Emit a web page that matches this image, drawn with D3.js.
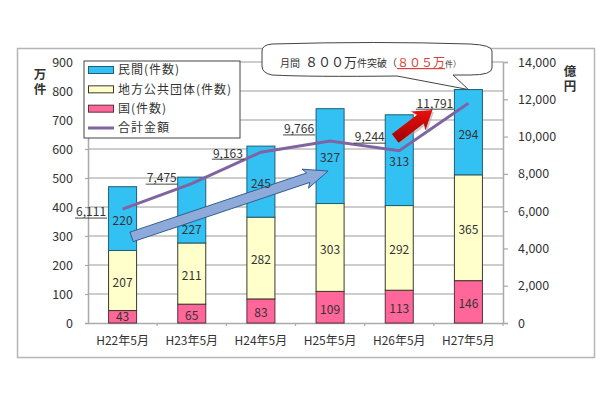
<!DOCTYPE html>
<html>
<head>
<meta charset="utf-8">
<script src="https://cdn.jsdelivr.net/npm/d3@7"></script>
<style>
  html, body { margin: 0; padding: 0; background: #fff; }
  text { font-family: "Noto Sans CJK JP", "Noto Sans", sans-serif; fill: #333; }
  .domain { stroke: #aaa; stroke-width: 1.5; }
  .tick line { stroke: #aaa; stroke-width: 1.2; }
</style>
</head>
<body>
<svg id="chart" width="610" height="400"></svg>
<script>
const categories = ["H22年5月", "H23年5月", "H24年5月", "H25年5月", "H26年5月", "H27年5月"];
const kuni = [43, 65, 83, 109, 113, 146];
const chihou = [207, 211, 282, 303, 292, 365];
const minkan = [220, 227, 245, 327, 313, 294];
const goukei = [6111, 7475, 9163, 9766, 9244, 11791];
const leftTicks = [0, 100, 200, 300, 400, 500, 600, 700, 800, 900];
const rightTicks = [0, 2000, 4000, 6000, 8000, 10000, 12000, 14000];
const seriesNames = ["民間(件数)", "地方公共団体(件数)", "国(件数)", "合計金額"];

const svg = d3.select("#chart");
const plotLeft = 88, plotRight = 503, plotTop = 62, plotBottom = 323;

const x = d3.scaleBand().domain(categories).range([plotLeft, plotRight]).paddingInner(0.595).paddingOuter(0.2975);
const xc = d3.scalePoint().domain(categories).range([plotLeft, plotRight]).padding(0.5);
const yL = d3.scaleLinear().domain([0, 900]).range([plotBottom, plotTop]);
const yR = d3.scaleLinear().domain([0, 14000]).range([plotBottom, plotTop]);

// outer frame
svg.append("rect").attr("x", 17.5).attr("y", 48.5).attr("width", 577).attr("height", 309)
  .attr("fill", "#fff").attr("stroke", "#b5b5b5").attr("stroke-width", 1.5);

// grid
svg.append("g").selectAll("line").data(leftTicks.slice(1)).join("line")
  .attr("x1", plotLeft).attr("x2", plotRight)
  .attr("y1", d => yL(d)).attr("y2", d => yL(d))
  .attr("stroke", "#bdbdbd").attr("stroke-width", 1.3);

// axes
const axL = svg.append("g").attr("transform", `translate(${plotLeft},0)`)
  .call(d3.axisLeft(yL).tickValues(leftTicks).tickSize(3).tickPadding(12));
axL.selectAll("text").attr("font-size", 12.5);

const axR = svg.append("g").attr("transform", `translate(${plotRight},0)`)
  .call(d3.axisRight(yR).tickValues(rightTicks).tickFormat(d3.format(",")).tickSize(5).tickPadding(10));
axR.selectAll("text").attr("font-size", 12.5);

const axB = svg.append("g").attr("transform", `translate(0,${plotBottom})`)
  .call(d3.axisBottom(x).tickSize(0).tickPadding(13));
axB.selectAll("text").attr("font-size", 12);
// category separators sit between the bars
svg.append("g").selectAll("line").data(categories).join("line")
  .attr("x1", d => xc(d) + xc.step() / 2).attr("x2", d => xc(d) + xc.step() / 2)
  .attr("y1", plotBottom).attr("y2", plotBottom + 3)
  .attr("stroke", "#aaa").attr("stroke-width", 1.2);

// stacked bars
const rows = categories.map((c, i) => ({ cat: c, kuni: kuni[i], chihou: chihou[i], minkan: minkan[i] }));
const stack = d3.stack().keys(["kuni", "chihou", "minkan"])(rows);
const fills = { kuni: "#ff6699", chihou: "#ffffcc", minkan: "#33c1f3" };
const strokes = { kuni: "#5a3040", chihou: "#3a3a2a", minkan: "#1d5f78" };

const layers = svg.append("g").selectAll("g").data(stack).join("g");
layers.selectAll("rect").data(s => s.map(d => ({ key: s.key, d }))).join("rect")
  .attr("x", p => x(p.d.data.cat))
  .attr("width", x.bandwidth())
  .attr("y", p => yL(p.d[1]))
  .attr("height", p => yL(p.d[0]) - yL(p.d[1]))
  .attr("fill", p => fills[p.key])
  .attr("stroke", p => strokes[p.key])
  .attr("stroke-width", 1);

// total amount line
const line = d3.line().x((d, i) => xc(categories[i])).y(d => yR(d));
svg.append("path").datum(goukei).attr("d", line)
  .attr("fill", "none").attr("stroke", "#8064a2").attr("stroke-width", 3);

// long blue arrow goes over the line but under the numbers
function arrow(x0, y0, x1, y1, shaft, head, headLen) {
  const a = Math.atan2(y1 - y0, x1 - x0), len = Math.hypot(x1 - x0, y1 - y0);
  const pts = [[0, -shaft], [len - headLen, -shaft], [len - headLen - 3, -head], [len, 0],
               [len - headLen - 3, head], [len - headLen, shaft], [0, shaft]];
  return d3.line()(pts.map(([u, v]) => [x0 + u * Math.cos(a) - v * Math.sin(a), y0 + u * Math.sin(a) + v * Math.cos(a)])) + "Z";
}
svg.append("path")
  .attr("d", arrow(xc(categories[0]) + 9, yL(297), xc(categories[3]) - 2, yL(524), 5, 10, 21))
  .attr("fill", "#8eaadb").attr("stroke", "#2f5f8a").attr("stroke-width", 1);

// numbers inside the bars; the H23 one sits lower to clear the blue arrow
svg.append("g").selectAll("g").data(stack).join("g")
  .selectAll("text").data(s => s.map(d => ({ key: s.key, d }))).join("text")
  .attr("x", p => xc(p.d.data.cat))
  .attr("y", p => {
    const mid = Math.min((yL(p.d[0]) + yL(p.d[1])) / 2, plotBottom - 8) + 2;
    return p.key === "minkan" && p.d.data.cat === "H23年5月" ? mid + 18 : mid;
  })
  .attr("dy", "0.36em")
  .attr("text-anchor", "middle")
  .attr("font-size", 12)
  .text(p => p.d[1] - p.d[0]);

// amount labels, underlined, offset from each point
const labelOffsets = [[-31.5, 3], [-30, -5.5], [-33, 1], [-31, -12], [-29.5, -13.5], [-33.5, 0]];
const labels = svg.append("g").selectAll("g").data(goukei).join("g")
  .attr("transform", (d, i) => `translate(${xc(categories[i]) + labelOffsets[i][0]},${yR(d) + labelOffsets[i][1]})`);
labels.append("text").attr("text-anchor", "middle").attr("dy", "0.36em")
  .attr("font-size", 12).text(d3.format(","));
labels.append("line").attr("x1", d => d >= 10000 ? -19 : -16).attr("x2", d => d >= 10000 ? 19 : 16)
  .attr("y1", 6).attr("y2", 6)
  .attr("stroke", "#333").attr("stroke-width", 0.9);

// red arrow with a soft shadow
const defs = svg.append("defs");
const grad = defs.append("linearGradient").attr("id", "redGrad")
  .attr("x1", 0).attr("y1", 0).attr("x2", 0).attr("y2", 1);
grad.append("stop").attr("offset", "0%").attr("stop-color", "#e81010");
grad.append("stop").attr("offset", "100%").attr("stop-color", "#a00000");
const redD = arrow(xc(categories[4]) - 4, yR(9900), xc(categories[5]) - 36, yR(11420), 5.5, 12, 15);
svg.append("path").attr("d", redD).attr("fill", "#999").attr("opacity", 0.5)
  .attr("transform", "translate(1.5,2)");
svg.append("path").attr("d", redD).attr("fill", "url(#redGrad)");

// callout pointing at the H27 bar top
const tipX = xc(categories[5]), tipY = yL(805);
svg.append("path")
  .attr("d", `M272,44 Q376,41 470,44 Q492,45 492,51 L492,68 Q492,75 470,75 L453,75 L${tipX},${tipY}
              L397,76 Q310,77 272,75 Q262,73 262,66 L262,51 Q262,45 272,44 Z`)
  .attr("fill", "#fff").attr("stroke", "#444").attr("stroke-width", 1);

const callout = svg.append("text").attr("x", 280).attr("y", 67);
callout.append("tspan").attr("font-size", 10).text("月間");
callout.append("tspan").attr("font-size", 13).attr("dx", 5).text("８００万");
callout.append("tspan").attr("font-size", 10).text("件突破（");
callout.append("tspan").attr("font-size", 12).attr("text-decoration", "underline")
  .style("fill", "#d8413a").text("８０５万");
callout.append("tspan").attr("font-size", 8).text("件）");

// legend
const legend = svg.append("g");
legend.append("rect").attr("x", 84).attr("y", 61).attr("width", 156).attr("height", 77)
  .attr("fill", "#fff").attr("stroke", "#444").attr("stroke-width", 1);
const legendY = d3.scalePoint().domain(seriesNames).range([70, 128]);
const legendKeys = ["minkan", "chihou", "kuni"];
seriesNames.forEach((name, i) => {
  const yy = legendY(name);
  if (i < 3) {
    legend.append("rect").attr("x", 88.5).attr("y", yy - 3.5).attr("width", 25).attr("height", 7)
      .attr("fill", fills[legendKeys[i]]).attr("stroke", strokes[legendKeys[i]]);
  } else {
    legend.append("line").attr("x1", 88).attr("x2", 114).attr("y1", yy).attr("y2", yy)
      .attr("stroke", "#8064a2").attr("stroke-width", 3);
  }
  legend.append("text").attr("x", 118).attr("y", yy).attr("dy", "0.36em")
    .attr("font-size", 12).attr("letter-spacing", 1).text(name);
});

// unit captions, written vertically
function unit(label, px, py) {
  svg.append("text").attr("x", px).attr("y", py)
    .style("writing-mode", "vertical-rl")
    .attr("text-anchor", "start").attr("font-size", 12.5).attr("font-weight", 700)
    .attr("letter-spacing", 2).text(label);
}
unit("万件", 40, 68);
unit("億円", 570, 65);
</script>
</body>
</html>
